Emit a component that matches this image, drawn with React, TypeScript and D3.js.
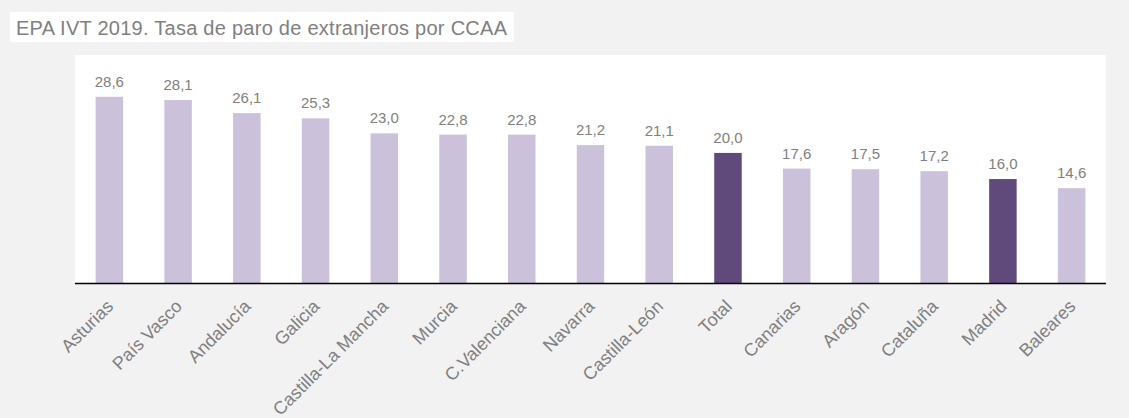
import React from "react";
import * as d3 from "d3";

const categories = [
  "Asturias", "País Vasco", "Andalucía", "Galicia", "Castilla-La Mancha",
  "Murcia", "C.Valenciana", "Navarra", "Castilla-León", "Total",
  "Canarias", "Aragón", "Cataluña", "Madrid", "Baleares",
];
const values = [28.6, 28.1, 26.1, 25.3, 23.0, 22.8, 22.8, 21.2, 21.1, 20.0, 17.6, 17.5, 17.2, 16.0, 14.6];
const highlighted = ["Total", "Madrid"];
const title = "EPA IVT 2019. Tasa de paro de extranjeros por CCAA";

const W = 1129;
const H = 418;
const plot = { left: 75, right: 1106, top: 55, bottom: 283.5 };
const FONT = "'Liberation Sans', Arial, sans-serif";
const TEXT = "#808080";

const fmt = d3.formatLocale({ decimal: ",", thousands: ".", grouping: [3], currency: ["", "€"] }).format(".1f");

export default function App() {
  const x = d3.scaleBand<string>().domain(categories).range([plot.left, plot.right]).paddingInner(0.6).paddingOuter(0.3);
  const y = d3.scaleLinear().domain([0, 35]).range([plot.bottom, plot.top]);
  const bw = x.bandwidth();
  return (
    <svg width={W} height={H} style={{ position: "absolute", left: 0, top: 0, background: "#f2f2f2" }} fontFamily={FONT}>
      <rect x={0} y={0} width={W} height={H} fill="#f2f2f2" />
      <rect x={10} y={12} width={504} height={30} fill="#ffffff" />
      <text x={16} y={34.5} fontSize={20} fill={TEXT} textLength={491} lengthAdjust="spacing">{title}</text>
      <rect x={plot.left} y={plot.top} width={plot.right - plot.left} height={plot.bottom - plot.top} fill="#ffffff" />
      {categories.map((c, i) => (
        <g key={c}>
          <rect
            x={x(c)}
            y={y(values[i])}
            width={bw}
            height={plot.bottom - y(values[i])}
            fill={highlighted.includes(c) ? "#604a7b" : "#ccc1da"}
          />
          <text x={(x(c) as number) + bw / 2} y={y(values[i]) - 10} textAnchor="middle" fontSize={15} fill={TEXT}>
            {fmt(values[i])}
          </text>
          <text
            transform={`translate(${(x(c) as number) + bw / 2 + 5},${plot.bottom + 24}) rotate(-45)`}
            textAnchor="end"
            fontSize={18}
            fill={TEXT}
          >
            {c}
          </text>
        </g>
      ))}
      <line x1={plot.left} x2={plot.right} y1={plot.bottom} y2={plot.bottom} stroke="#000000" strokeWidth={1.5} />
    </svg>
  );
}
